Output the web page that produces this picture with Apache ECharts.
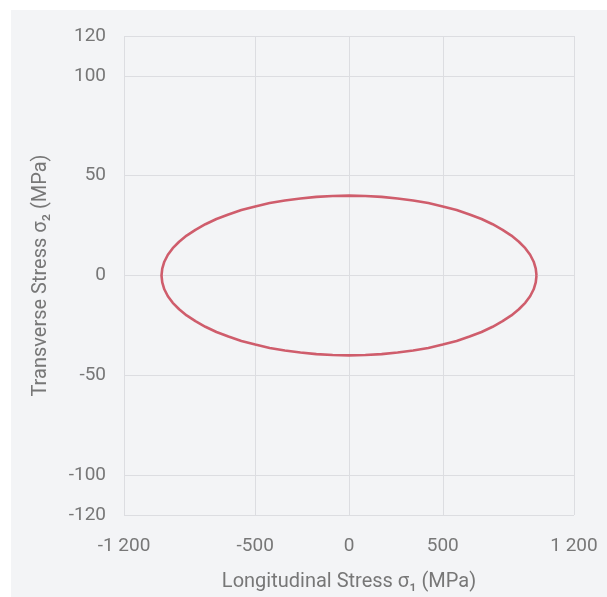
<!DOCTYPE html>
<html>
<head>
<meta charset="utf-8">
<script src="https://cdn.jsdelivr.net/npm/echarts@6/dist/echarts.min.js"></script>
<style>
  html, body { margin: 0; padding: 0; background: #fff; }
  #chart { width: 607px; height: 597px; }
</style>
</head>
<body>
<div id="chart"></div>
<script>
"use strict";
// failure envelope (MPa), traced counter-clockwise from the right tip
var sigma1 = [1000, 996, 985, 966, 940, 906, 866, 819, 766, 707, 643, 574, 500, 423, 342, 259, 174, 87, 0,
    -87, -174, -259, -342, -423, -500, -574, -643, -707, -766, -819, -866, -906, -940, -966, -985, -996, -1000,
    -996, -985, -966, -940, -906, -866, -819, -766, -707, -643, -574, -500, -423, -342, -259, -174, -87, 0,
    87, 174, 259, 342, 423, 500, 574, 643, 707, 766, 819, 866, 906, 940, 966, 985, 996, 1000];
var sigma2 = [0, 3.5, 6.9, 10.4, 13.7, 16.9, 20.0, 22.9, 25.7, 28.3, 30.6, 32.8, 34.6, 36.3, 37.6, 38.6, 39.4, 39.8, 40.0,
    39.8, 39.4, 38.6, 37.6, 36.3, 34.6, 32.8, 30.6, 28.3, 25.7, 22.9, 20.0, 16.9, 13.7, 10.4, 6.9, 3.5, 0,
    -3.5, -6.9, -10.4, -13.7, -16.9, -20.0, -22.9, -25.7, -28.3, -30.6, -32.8, -34.6, -36.3, -37.6, -38.6, -39.4, -39.8, -40.0,
    -39.8, -39.4, -38.6, -37.6, -36.3, -34.6, -32.8, -30.6, -28.3, -25.7, -22.9, -20.0, -16.9, -13.7, -10.4, -6.9, -3.5, 0];
var xTicks = [-1200, -500, 0, 500, 1200];
var yTicks = [-120, -100, -50, 0, 50, 100, 120];

var chart = echarts.init(document.getElementById("chart"));
var gridColor = "#dcdde1",
    labelColor = "#777",
    font = "Roboto";

function fmt(v) {
    var s = String(Math.abs(v)).replace(/\B(?=(\d{3})+(?!\d))/g, " ");
    return (v < 0 ? "-" : "") + s;
}

var points = sigma1.map(function (x, i) { return [x, sigma2[i]]; });

var option = {
    backgroundColor: "transparent",
    animation: false,
    graphic: [{
        type: "rect",
        z: -10,
        silent: true,
        shape: { x: 11, y: 10, width: 600, height: 600 },
        style: { fill: "#f3f4f6" }
    }],
    grid: { left: 124, right: 33, top: 36, bottom: 81 },
    xAxis: {
        type: "value",
        min: -1200,
        max: 1200,
        name: "Longitudinal Stress σ₁ (MPa)",
        nameLocation: "middle",
        nameGap: 57,
        nameTextStyle: { color: labelColor, fontFamily: font, fontSize: 20 },
        axisLine: { show: false },
        axisTick: { show: true, length: 14, lineStyle: { color: gridColor }, customValues: xTicks },
        axisLabel: { color: labelColor, fontFamily: font, fontSize: 19, margin: 22, customValues: xTicks, formatter: fmt },
        splitLine: { show: true, lineStyle: { color: gridColor, width: 1 } }
    },
    yAxis: {
        type: "value",
        min: -120,
        max: 120,
        name: "Transverse Stress σ₂ (MPa)",
        nameLocation: "middle",
        nameGap: 73,
        nameTextStyle: { color: labelColor, fontFamily: font, fontSize: 20 },
        axisLine: { show: false },
        axisTick: { show: true, length: 11, lineStyle: { color: gridColor }, customValues: yTicks },
        axisLabel: { color: labelColor, fontFamily: font, fontSize: 19, margin: 18, customValues: yTicks, formatter: fmt },
        splitLine: { show: true, lineStyle: { color: gridColor, width: 1 } }
    },
    series: [{
        type: "line",
        data: points,
        smooth: false,
        showSymbol: false,
        lineStyle: { color: "#cf5d6c", width: 2.6 }
    }]
};
chart.setOption(option);
</script>
</body>
</html>
